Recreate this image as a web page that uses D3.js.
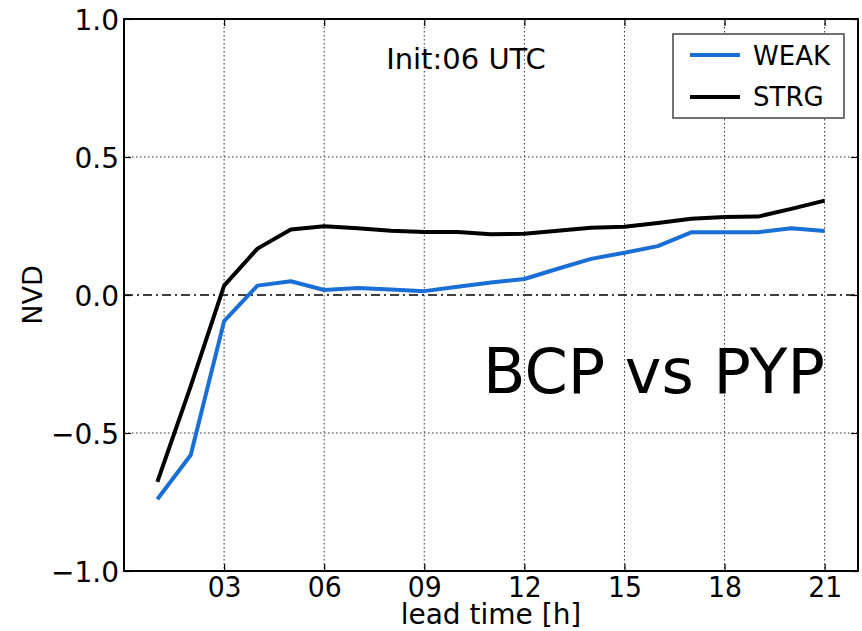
<!DOCTYPE html>
<html>
<head>
<meta charset="utf-8">
<script src="https://cdn.jsdelivr.net/npm/d3@7"></script>
<style>
    body { margin: 0; background: #fff; }
    #chart { width: 862px; height: 631px; }
    text { font-family: "DejaVu Sans", sans-serif; fill: #000; }
</style>
</head>
<body>
<div id="chart"></div>
<script>
// lead time in hours
const leadTimes = [1, 2, 3, 4, 5, 6, 7, 8, 9, 10, 11, 12, 13, 14, 15, 16, 17, 18, 19, 20, 21];
const weakValues = [-0.74, -0.58, -0.095, 0.034, 0.05, 0.018, 0.025, 0.02, 0.014, 0.03, 0.045,
    0.058, 0.095, 0.131, 0.153, 0.177, 0.227, 0.227, 0.227, 0.242, 0.232];
const strgValues = [-0.677, -0.33, 0.034, 0.168, 0.237, 0.249, 0.242, 0.233, 0.228, 0.228, 0.22,
    0.222, 0.233, 0.244, 0.247, 0.261, 0.276, 0.283, 0.284, 0.312, 0.342];
const xTicks = [3, 6, 9, 12, 15, 18, 21];
const yTicks = [-1, -0.5, 0, 0.5, 1];
const seriesNames = ["WEAK", "STRG"];
const seriesColors = ["#1a6fd6", "#000000"];

class NvdChart {
    constructor(parentElement) {
        this.parentElement = parentElement;
        this.initVis();
    }

    initVis() {
        let vis = this;

        vis.margin = { top: 19, right: 4, bottom: 60, left: 124 };
        vis.width = 862 - vis.margin.left - vis.margin.right;
        vis.height = 631 - vis.margin.top - vis.margin.bottom;

        vis.svg = d3.select(`#${vis.parentElement}`).append("svg")
            .attr("width", 862)
            .attr("height", 631)
            .append("g")
            .attr("transform", `translate(${vis.margin.left},${vis.margin.top})`);

        vis.x = d3.scaleLinear().domain([0, 22]).range([0, vis.width]);
        vis.y = d3.scaleLinear().domain([-1, 1]).range([vis.height, 0]);

        // grid lines (dotted)
        vis.svg.append("g")
            .selectAll("line.vgrid")
            .data(xTicks)
            .enter().append("line")
            .attr("class", "vgrid")
            .attr("x1", d => vis.x(d)).attr("x2", d => vis.x(d))
            .attr("y1", 0).attr("y2", vis.height)
            .attr("stroke", "#333").attr("stroke-width", 1)
            .attr("stroke-dasharray", "1.5,2.5");
        vis.svg.append("g")
            .selectAll("line.hgrid")
            .data(yTicks.filter(d => d !== 0 && Math.abs(d) !== 1))
            .enter().append("line")
            .attr("class", "hgrid")
            .attr("x1", 0).attr("x2", vis.width)
            .attr("y1", d => vis.y(d)).attr("y2", d => vis.y(d))
            .attr("stroke", "#333").attr("stroke-width", 1)
            .attr("stroke-dasharray", "1.5,2.5");

        // zero line, dash-dot
        vis.svg.append("line")
            .attr("x1", 0).attr("x2", vis.width)
            .attr("y1", vis.y(0)).attr("y2", vis.y(0))
            .attr("stroke", "#000").attr("stroke-width", 1.5)
            .attr("stroke-dasharray", "9,4,2,4");

        // series lines
        let line = d3.line()
            .x(d => vis.x(d.t))
            .y(d => vis.y(d.v));
        [weakValues, strgValues].forEach((vals, i) => {
            vis.svg.append("path")
                .datum(leadTimes.map((t, j) => ({ t: t, v: vals[j] })))
                .attr("fill", "none")
                .attr("stroke", seriesColors[i])
                .attr("stroke-width", 4)
                .attr("stroke-linejoin", "round")
                .attr("d", line);
        });

        // axes with inward ticks
        vis.xAxis = d3.axisBottom(vis.x).tickValues(xTicks).tickFormat(d3.format("02d"))
            .tickSizeInner(-7).tickSizeOuter(0);
        vis.yAxis = d3.axisLeft(vis.y).tickValues(yTicks).tickFormat(d3.format(".1f"))
            .tickSizeInner(-7).tickSizeOuter(0).tickPadding(5);

        let gx = vis.svg.append("g")
            .attr("class", "x-axis axis")
            .attr("transform", `translate(0,${vis.height})`)
            .call(vis.xAxis);
        // narrow look of the tick digits
        gx.selectAll("text")
            .attr("font-size", 29)
            .attr("font-family", "DejaVu Sans")
            .attr("transform", "scale(0.92,1)")
            .attr("y", 26)
            .attr("dy", 0);

        let gy = vis.svg.append("g")
            .attr("class", "y-axis axis")
            .call(vis.yAxis);
        gy.selectAll("text").attr("font-size", 28).attr("font-family", "DejaVu Sans").attr("dy", "0.36em");

        // top and right ticks
        vis.svg.append("g")
            .call(d3.axisTop(vis.x).tickValues(xTicks).tickFormat("").tickSizeInner(-7).tickSizeOuter(0));
        vis.svg.append("g")
            .attr("transform", `translate(${vis.width},0)`)
            .call(d3.axisRight(vis.y).tickValues(yTicks).tickFormat("").tickSizeInner(-7).tickSizeOuter(0));

        vis.svg.selectAll(".domain").remove();
        vis.svg.selectAll(".tick line").attr("stroke", "#000").attr("stroke-width", 1.2);

        // frame
        vis.svg.append("rect")
            .attr("width", vis.width).attr("height", vis.height)
            .attr("fill", "none").attr("stroke", "#000").attr("stroke-width", 2);

        // axis labels
        vis.svg.append("text")
            .attr("x", vis.width / 2)
            .attr("y", vis.height + 53)
            .attr("text-anchor", "middle")
            .attr("font-size", 28)
            .text("lead time [h]");

        vis.svg.append("text")
            .attr("transform", "rotate(-90)")
            .attr("x", -vis.height / 2)
            .attr("y", -vis.margin.left + 42)
            .attr("text-anchor", "middle")
            .attr("font-size", 27)
            .text("NVD");

        // annotations
        vis.svg.append("text")
            .attr("x", 466 - vis.margin.left)
            .attr("y", 69 - vis.margin.top)
            .attr("text-anchor", "middle")
            .attr("font-size", 29)
            .text("Init:06 UTC");

        vis.svg.append("text")
            .attr("x", 483 - vis.margin.left)
            .attr("y", 393 - vis.margin.top)
            .attr("font-family", "Liberation Sans, Arial, sans-serif")
            .attr("font-size", 62)
            .text("BCP vs PYP");

        // legend
        let legend = vis.svg.append("g")
            .attr("class", "legend")
            .attr("transform", `translate(${673 - vis.margin.left},${34 - vis.margin.top})`);
        legend.append("rect")
            .attr("width", 171).attr("height", 84)
            .attr("fill", "#fff").attr("stroke", "#444").attr("stroke-width", 1.5);
        seriesNames.forEach((name, i) => {
            legend.append("line")
                .attr("x1", 17).attr("x2", 67)
                .attr("y1", 21 + i * 42).attr("y2", 21 + i * 42)
                .attr("stroke", seriesColors[i]).attr("stroke-width", 4);
            legend.append("text")
                .attr("x", 80)
                .attr("y", 31 + i * 41)
                .attr("font-size", 26)
                .text(name);
        });
    }
}

new NvdChart("chart");
</script>
</body>
</html>
